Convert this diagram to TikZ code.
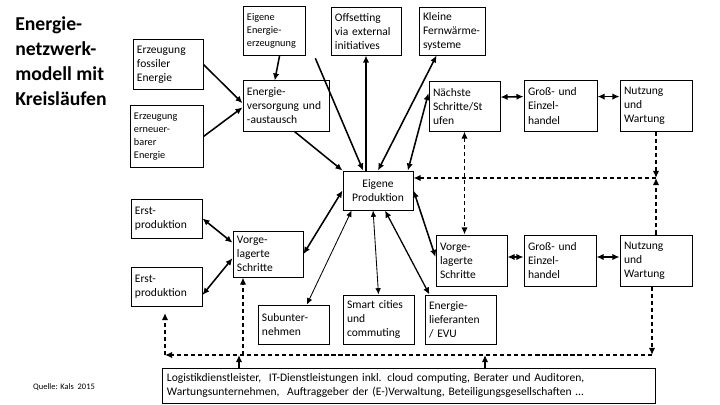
\documentclass[tikz,border=0pt]{standalone}
\usepackage{fontspec}
\setmainfont{Carlito}
\usetikzlibrary{arrows.meta}

\begin{document}
\begin{tikzpicture}[x=0.025cm, y=-0.025cm,
    box/.style={draw, line width=0.7pt, align=left, inner xsep=0.1cm, inner ysep=1pt,
        font=\fontsize{8.2}{10}\selectfont},
    smallbox/.style={box, font=\fontsize{7.3}{9.3}\selectfont},
    link/.style={line width=1.1pt, -{Latex[length=5pt, width=4.5pt]}},
    twoway/.style={line width=1.1pt, {Latex[length=5pt, width=4.5pt]}-{Latex[length=5pt, width=4.5pt]}},
    thinway/.style={line width=0.6pt, {Latex[length=4.5pt, width=4pt]}-{Latex[length=4.5pt, width=4pt]}},
    dashlink/.style={line width=1.4pt, dash pattern=on 3pt off 2pt, -{Latex[length=5pt, width=4.5pt]}},
    dashtwo/.style={line width=1.4pt, dash pattern=on 3pt off 2pt,
        {Latex[length=5pt, width=4.5pt]}-{Latex[length=5pt, width=4.5pt]}}
]
    \useasboundingbox (0,0) rectangle (720,405);

    % title and source
    \node[anchor=north west, align=left, inner sep=0pt, font=\bfseries\fontsize{14}{17.8}\selectfont]
        (title) at (15,16) {Energie-\\netzwerk-\\modell mit\\Kreisläufen};
    \node[font=\fontsize{6}{7}\selectfont] (source) at (64,387) {Quelle: Kals~~2015};

    % left column
    \node[box, text width=1.55cm, minimum height=1.225cm] (fossil) at (168,64.5) {Erzeugung\\fossiler\\Energie};
    \node[smallbox, text width=1.625cm, minimum height=1.525cm] (erneuer) at (166.5,136.5) {Erzeugung\\erneuer-\\barer\\Energie};
    \node[box, text width=1.575cm, minimum height=0.975cm] (erst1) at (166.5,218.5) {Erst-\\produktion};
    \node[box, text width=1.575cm, minimum height=0.975cm] (erst2) at (166.5,286.5) {Erst-\\produktion};

    % top row
    \node[smallbox, text width=1.35cm, minimum height=1.2cm] (eigerz) at (274,31) {Eigene\\Energie-\\erzeugnung};
    \node[box, text width=1.55cm, minimum height=1.175cm] (offset) at (366,31.5) {Offsetting\\via external\\initiatives};
    \node[box, text width=1.45cm, minimum height=1.175cm] (kleine) at (452,31.5) {Kleine\\Fernwärme-\\systeme};

    % second row
    \node[box, text width=1.95cm, minimum height=1.25cm] (versorg) at (286,106) {Energie-\\versorgung und\\-austausch};
    \node[box, text width=1.575cm, minimum height=1.225cm] (naechste) at (464.5,106.5) {Nächste\\Schritte/St\\ufen};
    \node[box, text width=1.625cm, minimum height=1.25cm] (gross1) at (560.5,106) {Groß- und\\Einzel-\\handel};
    \node[box, text width=1.6cm, minimum height=1.25cm] (nutz1) at (656,106) {Nutzung\\und\\Wartung};

    % centre
    \node[box, align=center, text width=1.55cm, minimum height=0.975cm] (eigprod) at (378,190.5) {Eigene\\Produktion};

    % lower rows
    \node[box, text width=1.55cm, minimum height=1.15cm] (vorg1) at (268,254) {Vorge-\\lagerte\\Schritte};
    \node[box, text width=1.575cm, minimum height=1.275cm] (vorg2) at (471.5,260.5) {Vorge-\\lagerte\\Schritte};
    \node[box, text width=1.6cm, minimum height=1.275cm] (gross2) at (560,260.5) {Groß- und\\Einzel-\\handel};
    \node[box, text width=1.6cm, minimum height=1.275cm] (nutz2) at (656,260.5) {Nutzung\\und\\Wartung};
    \node[box, text width=1.575cm, minimum height=0.975cm] (subunt) at (293.5,324.5) {Subunter-\\nehmen};
    \node[box, text width=1.575cm, minimum height=1.225cm] (smart) at (378.5,319.5) {Smart cities\\und\\commuting};
    \node[box, text width=1.575cm, minimum height=1.225cm] (energlief) at (460.5,319.5) {Energie-\\lieferanten\\/ EVU};

    % service providers
    \node[box, text width=12.1cm, minimum height=0.875cm] (dienst) at (409,385.5)
        {Logistikdienstleister,~~IT-Dienstleistungen inkl. cloud computing, Berater und Auditoren,\\
         Wartungsunternehmen,~~Auftraggeber der (E-)Verwaltung, Beteiligungsgesellschaften …};

    % solid connectors
    \draw[link] (fossil.east) -- ([yshift=2pt]versorg.west);
    \draw[link] (erneuer.east) -- ([yshift=-1pt]versorg.west);
    \draw[link] ([xshift=4pt]eigerz.south) -- ([xshift=-8pt]versorg.north);
    \draw[link] ([xshift=6pt]versorg.south) -- (eigprod.north west);
    \draw[link] ([xshift=7pt, yshift=-2pt]eigerz.south east) -- ([xshift=-10.6pt]eigprod.north);
    \draw[link] (offset.south |- eigprod.north) -- (offset.south);
    \draw[twoway] (eigprod.north) -- ([xshift=-11pt]kleine.south);
    \draw[twoway] ([xshift=-4pt]eigprod.north east) -- ([yshift=9.5pt]naechste.west);
    \draw[twoway] (eigprod.west) -- (vorg1.east);
    \draw[thinway] ([xshift=6.5pt]eigprod.south west) -- ([xshift=9.5pt]subunt.north);
    \draw[thinway] ([xshift=-3.5pt]eigprod.south) -- (smart.north);
    \draw[twoway, line width=0.9pt] ([xshift=5pt]eigprod.south) -- ([xshift=3.5pt]energlief.north west);
    \draw[twoway] (eigprod.east) -- ([yshift=2.5pt]vorg2.west);
    \draw[twoway] (erst1.east) -- ([yshift=8pt]vorg1.west);
    \draw[twoway] ([yshift=-6pt]erst2.east) -- ([yshift=-3pt]vorg1.west);
    \draw[twoway] ([yshift=6.7pt]naechste.east) -- ([yshift=6.7pt]gross1.west);
    \draw[twoway] ([yshift=6.7pt]gross1.east) -- ([yshift=6.7pt]nutz1.west);
    \draw[twoway] ([yshift=2.5pt]vorg2.east) -- ([yshift=2.5pt]gross2.west);
    \draw[twoway] ([yshift=2.5pt]gross2.east) -- ([yshift=2.5pt]nutz2.west);

    % dashed feedback loops
    \coordinate (knot) at (656,178);
    \coordinate (railR) at (652,355);
    \coordinate (railL) at (165,355);
    \coordinate (railTop) at (165,313);
    \coordinate (railV) at (243,355);
    \coordinate (feedA) at (239,355);
    \coordinate (feedB) at (485,355);

    \draw[dashtwo] (naechste.south) -- (naechste.south |- vorg2.north);
    \draw[dashlink] (nutz1.south) -- (knot);
    \draw[dashlink] (nutz2.north) -- (knot);
    \draw[dashlink] (knot) -- (knot -| eigprod.east);
    \draw[dashlink] (nutz2.south -| railR) -- (railR);
    \draw[dashlink] (railR) -- (railL);
    \draw[dashlink] (railL) -- (railTop);
    \draw[dashlink] (railV) -- (railV |- vorg1.south);
    \draw[link] (dienst.north -| feedA) -- (feedA);
    \draw[link] (dienst.north -| feedB) -- (feedB);
\end{tikzpicture}
\end{document}
